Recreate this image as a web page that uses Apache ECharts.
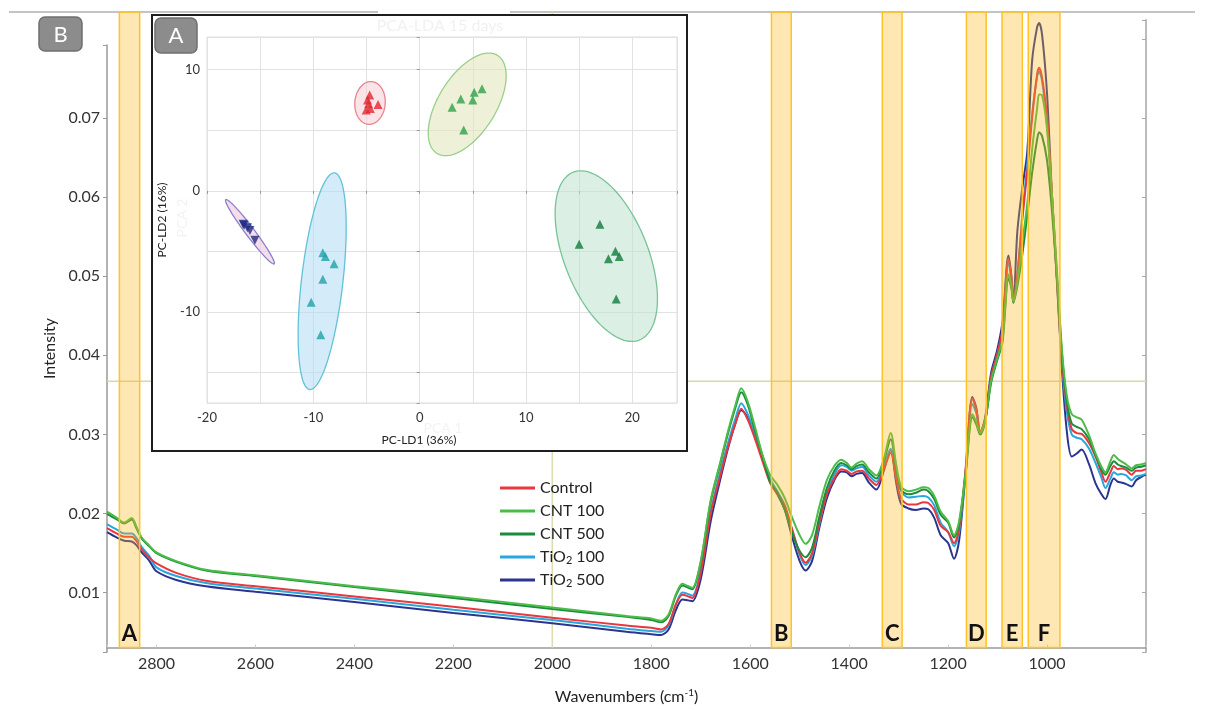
<!DOCTYPE html>
<html><head><meta charset="utf-8">
<script src="https://cdn.jsdelivr.net/npm/echarts@6/dist/echarts.min.js"></script>
<style>html,body{margin:0;padding:0;background:#fff;}#c{width:1210px;height:710px;}</style>
</head><body><div id="c"></div>
<script>
// ---------- main spectra data ----------
const wavenumbers = [2900,2880,2865,2850,2840,2830,2815,2800,2760,2700,
 2600,2400,2200,2000,1850,1800,1780,1765,1750,1737,
 1725,1717,1700,1680,1660,1645,1630,1618,1605,1590,
 1575,1560,1545,1530,1515,1500,1488,1475,1460,1445,
 1430,1416,1405,1395,1385,1374,1360,1345,1330,1316,
 1305,1295,1280,1265,1250,1240,1228,1215,1200,1188,
 1178,1165,1151,1143,1135,1125,1113,1101,1090,1078,
 1072,1068,1060,1050,1040,1030,1020,1016,1010,1000,
 990,980,970,960,950,940,930,915,902,890,
 882,872,865,857,850,840,829,820,810,800];
const control = [0.0177,0.0170,0.0166,0.0166,0.0160,0.0150,0.0140,0.0132,0.0120,0.0110,
 0.0103,0.0090,0.0077,0.0063,0.0053,0.0050,0.0048,0.0055,0.0080,0.0092,
 0.0090,0.0088,0.0120,0.0195,0.0245,0.0280,0.0310,0.0329,0.0315,0.0290,
 0.0262,0.0235,0.0220,0.0205,0.0175,0.0145,0.0133,0.0145,0.0185,0.0220,
 0.0240,0.0252,0.0250,0.0246,0.0249,0.0250,0.0240,0.0232,0.0252,0.0273,
 0.0240,0.0215,0.0207,0.0207,0.0210,0.0209,0.0200,0.0180,0.0172,0.0158,
 0.0175,0.0250,0.0342,0.0328,0.0300,0.0315,0.0370,0.0398,0.0430,0.0520,
 0.0495,0.0466,0.0500,0.0570,0.0630,0.0700,0.0755,0.0763,0.0750,0.0700,
 0.0600,0.0495,0.0390,0.0333,0.0303,0.0298,0.0297,0.0285,0.0268,0.0248,
 0.0236,0.0248,0.0256,0.0252,0.0253,0.0251,0.0245,0.0250,0.0250,0.0252];
const cnt100 = [0.0198,0.0190,0.0184,0.0190,0.0178,0.0165,0.0155,0.0146,0.0135,0.0124,
 0.0117,0.0103,0.0090,0.0076,0.0065,0.0062,0.0059,0.0067,0.0093,0.0106,
 0.0103,0.0101,0.0135,0.0212,0.0262,0.0300,0.0333,0.0355,0.0338,0.0305,
 0.0270,0.0245,0.0232,0.0215,0.0190,0.0168,0.0157,0.0168,0.0205,0.0238,
 0.0256,0.0264,0.0260,0.0254,0.0259,0.0262,0.0252,0.0244,0.0265,0.0298,
 0.0258,0.0230,0.0224,0.0226,0.0229,0.0228,0.0218,0.0198,0.0186,0.0168,
 0.0185,0.0245,0.0322,0.0312,0.0298,0.0315,0.0365,0.0392,0.0418,0.0500,
 0.0485,0.0466,0.0490,0.0540,0.0590,0.0660,0.0712,0.0729,0.0728,0.0685,
 0.0600,0.0505,0.0405,0.0345,0.0322,0.0318,0.0315,0.0295,0.0272,0.0255,
 0.0248,0.0262,0.0270,0.0265,0.0262,0.0258,0.0253,0.0257,0.0258,0.0260];
const cnt500 = [0.0195,0.0188,0.0183,0.0188,0.0176,0.0164,0.0154,0.0145,0.0134,0.0123,
 0.0116,0.0102,0.0088,0.0074,0.0064,0.0060,0.0057,0.0065,0.0091,0.0104,
 0.0101,0.0099,0.0133,0.0210,0.0260,0.0297,0.0330,0.0350,0.0334,0.0300,
 0.0268,0.0236,0.0222,0.0200,0.0170,0.0148,0.0140,0.0152,0.0192,0.0228,
 0.0250,0.0260,0.0257,0.0252,0.0256,0.0258,0.0248,0.0240,0.0262,0.0290,
 0.0254,0.0226,0.0220,0.0222,0.0226,0.0224,0.0214,0.0194,0.0184,0.0165,
 0.0182,0.0242,0.0318,0.0309,0.0296,0.0313,0.0362,0.0390,0.0414,0.0495,
 0.0482,0.0464,0.0485,0.0525,0.0575,0.0630,0.0672,0.0681,0.0676,0.0645,
 0.0580,0.0495,0.0400,0.0338,0.0310,0.0306,0.0303,0.0290,0.0270,0.0252,
 0.0245,0.0256,0.0262,0.0258,0.0256,0.0254,0.0250,0.0254,0.0255,0.0257];
const tio2_100 = [0.0182,0.0175,0.0170,0.0170,0.0164,0.0153,0.0142,0.0127,0.0116,0.0107,
 0.0100,0.0087,0.0073,0.0060,0.0049,0.0046,0.0045,0.0053,0.0080,0.0095,
 0.0093,0.0091,0.0122,0.0198,0.0250,0.0285,0.0316,0.0336,0.0322,0.0296,
 0.0268,0.0240,0.0224,0.0206,0.0174,0.0143,0.0130,0.0142,0.0183,0.0222,
 0.0245,0.0257,0.0255,0.0250,0.0253,0.0255,0.0244,0.0236,0.0256,0.0278,
 0.0248,0.0224,0.0216,0.0217,0.0218,0.0216,0.0206,0.0184,0.0172,0.0154,
 0.0171,0.0244,0.0335,0.0323,0.0297,0.0313,0.0368,0.0397,0.0428,0.0515,
 0.0492,0.0464,0.0500,0.0575,0.0640,0.0705,0.0752,0.0758,0.0746,0.0690,
 0.0600,0.0495,0.0388,0.0325,0.0296,0.0292,0.0290,0.0278,0.0260,0.0241,
 0.0228,0.0240,0.0248,0.0245,0.0246,0.0244,0.0238,0.0243,0.0244,0.0246];
const tio2_500 = [0.0172,0.0165,0.0161,0.0160,0.0155,0.0146,0.0136,0.0122,0.0111,0.0103,
 0.0096,0.0083,0.0069,0.0056,0.0045,0.0042,0.0041,0.0048,0.0073,0.0086,
 0.0085,0.0084,0.0112,0.0185,0.0240,0.0278,0.0310,0.0327,0.0318,0.0295,
 0.0268,0.0238,0.0220,0.0200,0.0165,0.0135,0.0123,0.0135,0.0178,0.0215,
 0.0238,0.0249,0.0248,0.0243,0.0246,0.0247,0.0235,0.0226,0.0250,0.0277,
 0.0235,0.0208,0.0202,0.0200,0.0202,0.0201,0.0190,0.0168,0.0158,0.0138,
 0.0160,0.0245,0.0344,0.0330,0.0298,0.0318,0.0375,0.0403,0.0440,0.0524,
 0.0498,0.0464,0.0555,0.0610,0.0656,0.0773,0.0815,0.0820,0.0805,0.0730,
 0.0600,0.0490,0.0380,0.0300,0.0268,0.0272,0.0277,0.0258,0.0234,0.0220,
 0.0214,0.0232,0.0240,0.0236,0.0235,0.0233,0.0230,0.0238,0.0242,0.0245];
const seriesNames = ['Control','CNT 100','CNT 500','TiO2 100','TiO2 500'];
// highlighted bands (wavenumber ranges) and their labels
const bandLabels = ['A','B','C','D','E','F'];
const bandFrom = [2834,1517,1293,1123,1050,974];
const bandTo   = [2875,1557,1333,1163,1091,1038];
// cursor cross lines
const crossX = 2000;
const crossY = 0.0364;
// axis ranges
const xRange = [800, 2900];
const yRangeMain = [0.0025, 0.0834];
const yRangeLeft = [0.0025, 0.0792];
const yRangeRight = [0.0025, 0.0824];

// ---------- inset PCA-LDA data ----------
const pcaControl = [[-4.70,7.92],[-4.90,7.50],[-4.80,7.20],[-3.91,7.14],[-5.03,6.68],[-4.64,6.81]];
const pcaCnt100 = [[3.05,6.90],[3.87,7.59],[5.13,8.14],[5.00,7.50],[5.86,8.44],[4.14,5.02]];
const pcaCnt500 = [[16.95,-2.76],[15.00,-4.41],[18.41,-4.97],[17.75,-5.60],[18.77,-5.41],[18.48,-8.91]];
const pcaTio2_100 = [[-9.11,-5.10],[-8.87,-5.41],[-8.05,-6.01],[-9.11,-7.28],[-10.20,-9.19],[-9.30,-11.86]];
const pcaTio2_500 = [[-16.6,-2.76],[-16.2,-3.03],[-15.96,-3.26],[-15.5,-4.08],[-16.5,-2.84]];
const ellipseCenter = [[-4.67,7.26],[4.47,7.14],[17.55,-5.38],[-9.17,-7.45],[-15.96,-3.37]];
const ellipseAxisU  = [[0.20,1.76],[2.78,4.08],[3.04,-6.95],[1.16,8.94],[2.27,-2.65]];
const ellipseAxisV  = [[1.42,-0.15],[2.39,-1.13],[3.73,1.13],[1.94,-0.17],[0.34,0.22]];
const insetXRange = [-20, 24.2];
const insetYRange = [-17.5, 12.7];

// ---------- styles ----------
const lineColors = {'Control':'#E8383D','CNT 100':'#4CBB47','CNT 500':'#1A8C3C','TiO2 100':'#2AA6DE','TiO2 500':'#2B3590'};
const pointColors = ['#E3262F','#2DA14A','#127A3A','#1FA3A8','#1E2A82'];
const ellFill = ['rgba(248,205,212,0.55)','rgba(226,232,190,0.6)','rgba(190,226,208,0.55)','rgba(176,220,244,0.55)','rgba(240,208,228,0.7)'];
const ellStroke = ['#E58590','#98D08A','#78C497','#62C3D6','#8C80CC'];
const FONT = 'Lato, "Open Sans", sans-serif';

const spectra = [control, cnt100, cnt500, tio2_100, tio2_500];
const drawOrder = [4,3,0,2,1];

const chart = echarts.init(document.getElementById('c'), null, {renderer:'canvas'});

const lineSeries = drawOrder.map(i => ({
  name: seriesNames[i], type:'line', xAxisIndex:0, yAxisIndex:0,
  data: wavenumbers.map((w,k)=>[w, spectra[i][k]]),
  showSymbol:false, smooth:0.3, z:2, silent:true,
  lineStyle:{color:lineColors[seriesNames[i]], width:2},
  itemStyle:{color:lineColors[seriesNames[i]]}
}));

const crossSeries = [
  {type:'line', xAxisIndex:0, yAxisIndex:0, silent:true, z:1, showSymbol:false,
   data:[[xRange[0],crossY],[xRange[1],crossY]], lineStyle:{color:'#D9D9A8', width:1.5}},
  {type:'line', xAxisIndex:0, yAxisIndex:0, silent:true, z:1, showSymbol:false,
   data:[[crossX,yRangeMain[0]],[crossX,yRangeMain[1]]], lineStyle:{color:'#DCDCAE', width:1.5}}
];

const bandSeries = {
  type:'custom', xAxisIndex:0, yAxisIndex:0, z:3, silent:true, clip:false,
  data: bandFrom.map((f,i)=>[f, bandTo[i]]),
  encode:{x:[0,1]},
  renderItem(params, api){
    const cs = params.coordSys;
    const p0 = api.coord([api.value(0), yRangeMain[0]]);
    const p1 = api.coord([api.value(1), yRangeMain[0]]);
    const x = Math.min(p0[0], p1[0]); const w = Math.abs(p1[0]-p0[0]);
    return {type:'group', children:[
      {type:'rect', shape:{x:x, y:cs.y, width:w, height:cs.height},
       style:{fill:'rgba(255,180,20,0.32)', stroke:'#FFC229', lineWidth:1.5}},
      {type:'text', style:{text:bandLabels[params.dataIndex], x:x+w/2, y:cs.y+cs.height-3,
        align:'center', verticalAlign:'bottom', textAlign:'center', textVerticalAlign:'bottom',
        fontSize:22, fontWeight:'bold', fontFamily:FONT, fill:'#111'}}
    ]};
  }
};

const ellipseSeries = {
  type:'custom', xAxisIndex:3, yAxisIndex:3, z:7, silent:true,
  data: ellipseCenter.map((c,i)=>[c[0], c[1], i]),
  renderItem(params, api){
    const i = params.dataIndex;
    const c = ellipseCenter[i], u = ellipseAxisU[i], v = ellipseAxisV[i];
    const pts = [];
    for (let k=0;k<96;k++){
      const t = k/96*2*Math.PI;
      pts.push(api.coord([c[0]+u[0]*Math.cos(t)+v[0]*Math.sin(t), c[1]+u[1]*Math.cos(t)+v[1]*Math.sin(t)]));
    }
    return {type:'polygon', shape:{points:pts}, style:{fill:ellFill[i], stroke:ellStroke[i], lineWidth:1.3}};
  }
};

const pcaSets = [pcaControl, pcaCnt100, pcaCnt500, pcaTio2_100, pcaTio2_500];
const scatterSeries = pcaSets.map((d,i)=>({
  type:'scatter', xAxisIndex:3, yAxisIndex:3, z:8, silent:true,
  data:d, symbol:'triangle', symbolSize:9, symbolRotate: i===4 ? 180 : 0,
  itemStyle:{color:pointColors[i]}
}));

const yLab = v => { const r = Math.round(v*100)/100; return (Math.abs(v-r)<1e-6 && r>0) ? r.toFixed(2) : ''; };

const option = {
  animation:false,
  backgroundColor:'#fff',
  grid:[
    {left:107, right:64, top:12, bottom:58},
    {left:107, right:64, top:45, bottom:58},
    {left:107, right:64, top:20, bottom:58},
    {left:207, right:533, top:37, bottom:307, show:true, borderColor:'#DDDDDD', borderWidth:1, backgroundColor:'transparent', z:6}
  ],
  xAxis:[
    {gridIndex:0, type:'value', inverse:true, min:xRange[0], max:xRange[1], interval:200,
     axisLine:{lineStyle:{color:'#9A9A9A', width:1.5}},
     axisTick:{show:true, inside:true, length:3, lineStyle:{color:'#CFCFCF'}},
     splitLine:{show:false},
     axisLabel:{color:'#333', fontSize:16, fontFamily:FONT, margin:8,
       formatter: v => (v>=1000 && v<=2800) ? String(v) : ''},
     name:'Wavenumbers (cm{sup|-1})', nameLocation:'middle', nameGap:40,
     nameTextStyle:{color:'#222', fontSize:16, fontFamily:FONT,
       rich:{sup:{fontSize:10, fontFamily:FONT, color:'#222', padding:[0,0,9,0]}}}},
    {gridIndex:1, type:'value', inverse:true, min:xRange[0], max:xRange[1], show:false},
    {gridIndex:2, type:'value', inverse:true, min:xRange[0], max:xRange[1], show:false},
    {gridIndex:3, type:'value', min:insetXRange[0], max:insetXRange[1], splitNumber:9, z:6,
     axisLine:{show:false}, axisTick:{show:true, length:3, lineStyle:{color:'#999'}},
     splitLine:{show:true, lineStyle:{color:'#E2E2E2', width:1}},
     axisLabel:{color:'#333', fontSize:13, fontFamily:FONT, margin:8,
       formatter: v => (Math.abs(v % 10) < 1e-9) ? String(v) : ''},
     name:'PC-LD1 (36%)', nameLocation:'middle', nameGap:31,
     nameTextStyle:{color:'#222', fontSize:12, fontFamily:FONT, padding:[0,46,0,0]}}
  ],
  yAxis:[
    {gridIndex:0, type:'value', min:yRangeMain[0], max:yRangeMain[1], show:false},
    {gridIndex:1, type:'value', min:yRangeLeft[0], max:yRangeLeft[1], splitNumber:8,
     axisLine:{show:true, lineStyle:{color:'#9A9A9A', width:1.5}},
     axisTick:{show:true, length:4, lineStyle:{color:'#9A9A9A'}},
     splitLine:{show:false},
     axisLabel:{color:'#333', fontSize:16, fontFamily:FONT, margin:7, formatter:yLab},
     name:'Intensity', nameLocation:'middle', nameGap:42, nameRotate:90,
     nameTextStyle:{color:'#222', fontSize:16, fontFamily:FONT}},
    {gridIndex:2, type:'value', position:'right', min:yRangeRight[0], max:yRangeRight[1], splitNumber:8,
     axisLine:{show:true, lineStyle:{color:'#BBBBBB', width:2}},
     axisTick:{show:true, inside:true, length:4, lineStyle:{color:'#AAAAAA'}},
     axisLabel:{show:false}, splitLine:{show:false}},
    {gridIndex:3, type:'value', min:insetYRange[0], max:insetYRange[1], splitNumber:6, z:6,
     axisLine:{show:false}, axisTick:{show:true, length:3, lineStyle:{color:'#999'}},
     splitLine:{show:true, lineStyle:{color:'#E2E2E2', width:1}},
     axisLabel:{color:'#333', fontSize:13, fontFamily:FONT, margin:7,
       formatter: v => (Math.abs(v % 10) < 1e-9) ? String(v) : ''},
     name:'PC-LD2 (16%)', nameLocation:'middle', nameGap:39, nameRotate:90,
     nameTextStyle:{color:'#222', fontSize:12, fontFamily:FONT}}
  ],
  legend:{
    data: seriesNames, orient:'vertical', left:495, top:474, itemGap:5,
    icon:'rect', itemWidth:35, itemHeight:3, selectedMode:false, z:4,
    formatter: n => n.replace('TiO2', 'TiO{sub|2}'),
    textStyle:{color:'#222', fontSize:16, fontFamily:FONT, lineHeight:18,
      rich:{sub:{fontSize:11, fontFamily:FONT, color:'#222', lineHeight:18, padding:[7,0,0,0]}}}
  },
  graphic:{elements:[
    {type:'line', z:1, silent:true, shape:{x1:9,y1:12,x2:378,y2:12}, style:{stroke:'#C4C4C4', lineWidth:2}},
    {type:'line', z:1, silent:true, shape:{x1:510,y1:12,x2:1195,y2:12}, style:{stroke:'#C4C4C4', lineWidth:2}},
    {type:'rect', z:5, silent:true, shape:{x:152,y:15,width:535,height:436}, style:{fill:'#fff', stroke:'#1E1E1E', lineWidth:2}},
    {type:'text', z:6, silent:true, x:440, y:26, style:{text:'PCA-LDA 15 days', fill:'#F1F1F1', fontSize:16, fontFamily:FONT, align:'center', verticalAlign:'middle', textAlign:'center', textVerticalAlign:'middle'}},
    {type:'text', z:6, silent:true, x:182, y:218, rotation:Math.PI/2, style:{text:'PCA 2', fill:'#F3F3F3', fontSize:14, fontFamily:FONT, align:'center', verticalAlign:'middle', textAlign:'center', textVerticalAlign:'middle'}},
    {type:'text', z:6, silent:true, x:443, y:428, style:{text:'PCA 1', fill:'#F3F3F3', fontSize:14, fontFamily:FONT, align:'center', verticalAlign:'middle', textAlign:'center', textVerticalAlign:'middle'}},
    {type:'rect', z:10, silent:true, shape:{x:39,y:17,width:43,height:34,r:6}, style:{fill:'#8C8C8C', stroke:'#6F6F6F', lineWidth:1.5}},
    {type:'text', z:11, silent:true, x:60.5, y:34.5, style:{text:'B', fill:'#fff', fontSize:22, fontFamily:FONT, align:'center', verticalAlign:'middle', textAlign:'center', textVerticalAlign:'middle'}},
    {type:'rect', z:10, silent:true, shape:{x:155,y:18,width:42,height:35,r:6}, style:{fill:'#8C8C8C', stroke:'#6F6F6F', lineWidth:1.5}},
    {type:'text', z:11, silent:true, x:176, y:36, style:{text:'A', fill:'#fff', fontSize:22, fontFamily:FONT, align:'center', verticalAlign:'middle', textAlign:'center', textVerticalAlign:'middle'}}
  ]},
  series:[...crossSeries, ...lineSeries, bandSeries, ellipseSeries, ...scatterSeries]
};
chart.setOption(option);
</script></body></html>
